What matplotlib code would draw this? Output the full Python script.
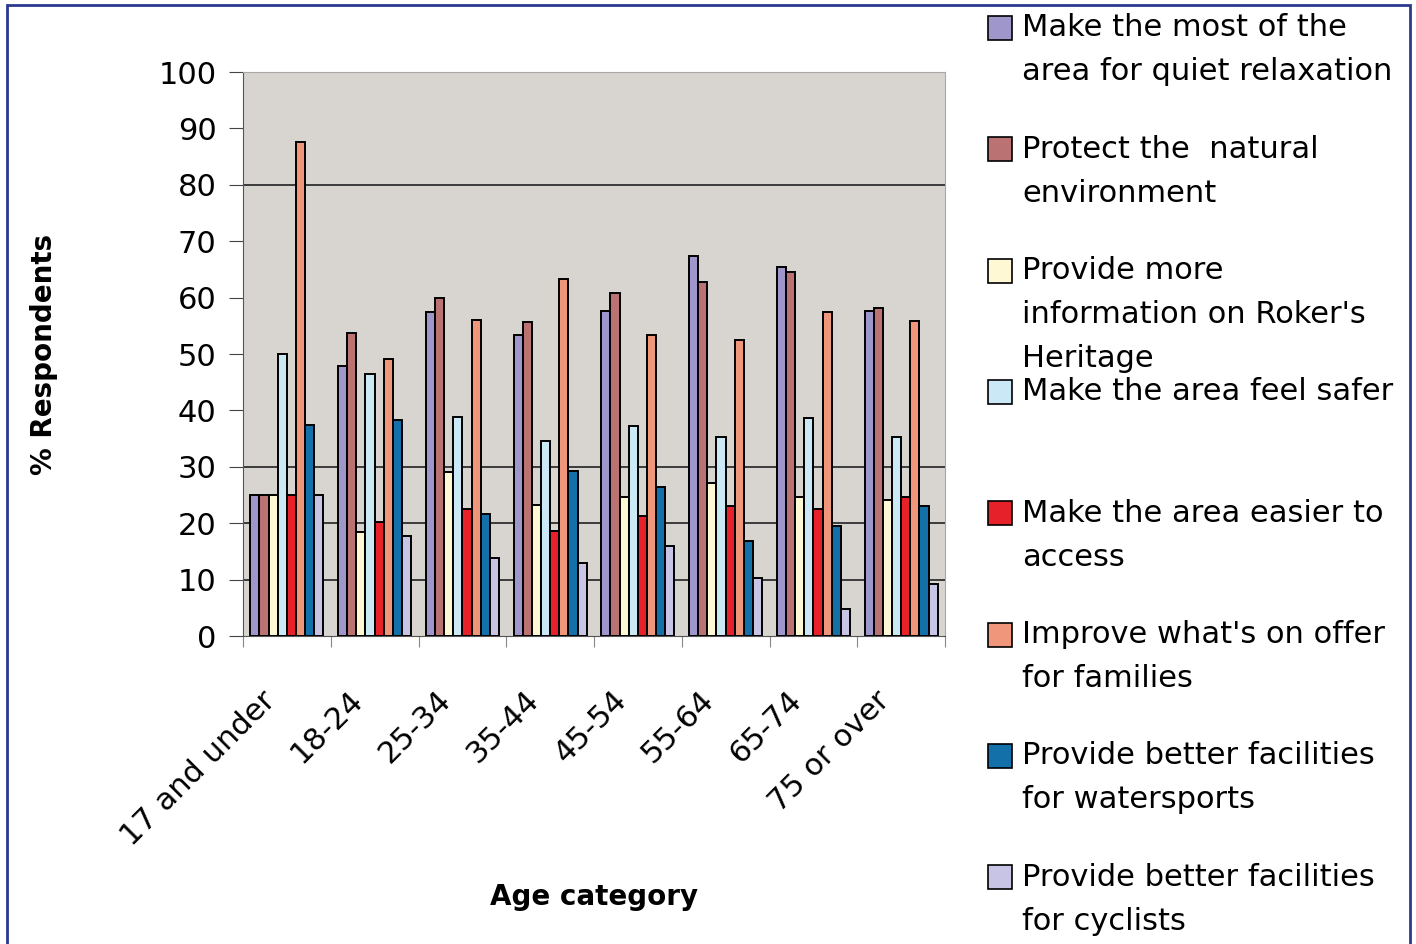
import matplotlib.pyplot as plt
import numpy as np
from matplotlib.patches import Rectangle
from matplotlib.transforms import ScaledTranslation

ages = ['17 and under', '18-24', '25-34', '35-44', '45-54', '55-64', '65-74', '75 or over']

quiet = [25, 47.8, 57.4, 53.4, 57.7, 67.3, 65.5, 57.7]
natural = [25, 53.8, 59.9, 55.6, 60.8, 62.8, 64.5, 58.1]
heritage = [25, 18.5, 29.0, 23.3, 24.6, 27.1, 24.6, 24.2]
safer = [50, 46.5, 38.8, 34.5, 37.2, 35.2, 38.7, 35.2]
access = [25, 20.2, 22.5, 18.6, 21.2, 23.0, 22.5, 24.6]
families = [87.6, 49.2, 56.0, 63.3, 53.4, 52.5, 57.4, 55.9]
watersports = [37.5, 38.3, 21.6, 29.3, 26.4, 16.9, 19.5, 23.0]
cyclists = [25, 17.8, 13.9, 13.0, 16.0, 10.3, 4.8, 9.2]

series = [quiet, natural, heritage, safer, access, families, watersports, cyclists]
labels = ['Make the most of the\narea for quiet relaxation',
          'Protect the  natural\nenvironment',
          'Provide more\ninformation on Roker\'s\nHeritage',
          'Make the area feel safer',
          'Make the area easier to\naccess',
          'Improve what\'s on offer\nfor families',
          'Provide better facilities\nfor watersports',
          'Provide better facilities\nfor cyclists']
colors = ['#9F97CB', '#BA7272', '#FFF8D4', '#CBE8F7',
          '#E62129', '#F0967A', '#1470A8', '#C8C4E6']
gridvals = [10, 20, 30, 80]

W, H = 1416, 944
fig = plt.figure(figsize=(W / 100, H / 100), dpi=100)
ax = fig.add_axes([243 / W, 1 - 636 / H, 702 / W, 564 / H])
ax.set_facecolor('#D8D5D1')

x = np.arange(len(ages))
w = 0.104
for j, (vals, c) in enumerate(zip(series, colors)):
    ax.bar(x + (j - 3.5) * w, vals, w, color=c, edgecolor='black', linewidth=1.4, zorder=3)

for g in gridvals:
    ax.axhline(g, color='#222222', linewidth=1.2, zorder=1)

ax.set_xlim(-0.5, len(ages) - 0.5)
ax.set_ylim(0, 100)
ax.set_yticks(range(0, 101, 10))
ax.tick_params(axis='y', labelsize=22, length=10, pad=9, color='#444444')

ax.set_xticks(np.arange(-0.5, len(ages), 1))
ax.set_xticklabels([])
ax.tick_params(axis='x', which='major', length=8, color='#888888')
ax.set_xticks(x, minor=True)
ax.set_xticklabels(ages, minor=True, rotation=45, ha='right', va='center',
                   rotation_mode='anchor', fontsize=22)
ax.tick_params(axis='x', which='minor', length=0, pad=40)
# nudge the slanted age labels a little to the left
shift = ScaledTranslation(-16 / 100, -4 / 100, fig.dpi_scale_trans)
for lbl in ax.get_xticklabels(minor=True):
    lbl.set_transform(lbl.get_transform() + shift)

for s in ['left', 'bottom']:
    ax.spines[s].set_color('#555555')
for s in ['top', 'right']:
    ax.spines[s].set_color('#A8A8A8')

ax.set_ylabel('% Respondents', fontsize=20, fontweight='bold')
ax.yaxis.set_label_coords(-0.283, 0.5)
ax.yaxis.label.set_va('center')
ax.set_xlabel('Age category', fontsize=20, fontweight='bold')
ax.xaxis.set_label_coords(0.5, -0.463)
ax.xaxis.label.set_va('center')

# legend drawn by hand: fixed slot per entry, long labels may run into the next
for i, (lab, c) in enumerate(zip(labels, colors)):
    ytop = 28 + i * 121.3
    fig.patches.append(Rectangle((988 / W, 1 - (ytop + 12) / H), 24 / W, 24 / H,
                                 transform=fig.transFigure, facecolor=c,
                                 edgecolor='black', linewidth=1.2))
    for k, line in enumerate(lab.split('\n')):
        fig.text(1022 / W, 1 - (ytop + k * 44) / H, line, fontsize=22,
                 va='center', ha='left')

fig.patches.append(Rectangle((7 / W, -0.05), 1403 / W, 1 - 5 / H + 0.05,
                             transform=fig.transFigure, fill=False,
                             edgecolor='#2B3990', linewidth=2))

plt.savefig('out.png', dpi=100)
